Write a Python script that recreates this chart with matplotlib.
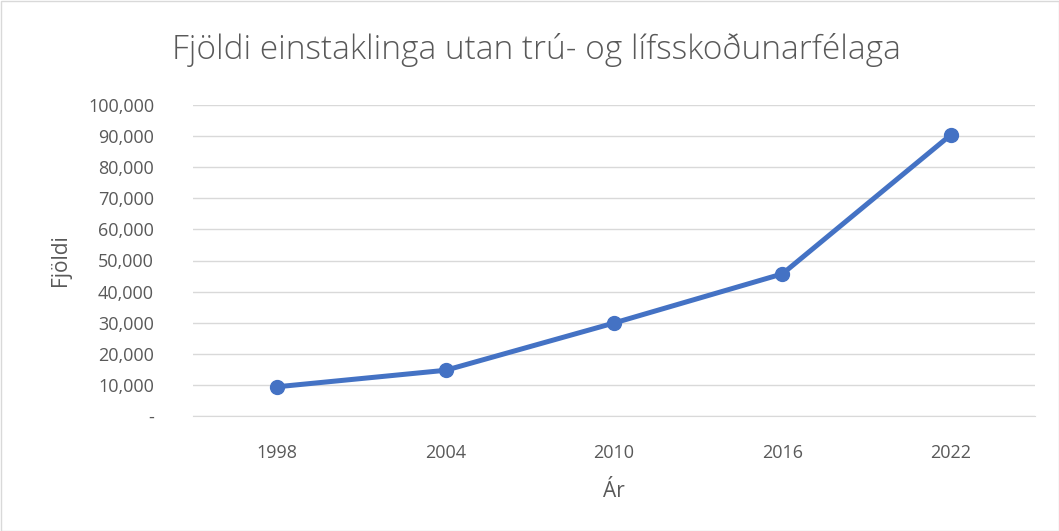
import matplotlib
matplotlib.use("Agg")
import matplotlib.pyplot as plt
from matplotlib.ticker import FuncFormatter

years = ["1998", "2004", "2010", "2016", "2022"]
counts = [9400, 14700, 29900, 45700, 90400]

title = "Fjöldi einstaklinga utan trú- og lífsskoðunarfélaga"
xlabel = "Ár"
ylabel = "Fjöldi"

plt.rcParams['font.family'] = ['Open Sans', 'DejaVu Sans']
grey = "#595959"

fig = plt.figure(figsize=(10.59, 5.31), dpi=100)
ax = fig.add_axes([193/1059, 1-416/531, (1035-193)/1059, (416-105)/531])

x = list(range(len(years)))
ax.plot(x, counts, color="#4472C4", linewidth=3.6, marker="o", markersize=10,
        solid_capstyle="round", zorder=3)

ax.set_xlim(-0.5, len(years) - 0.5)
ax.set_ylim(0, 100000)
ax.set_yticks(range(0, 100001, 10000))
ax.yaxis.set_major_formatter(FuncFormatter(lambda v, p: "-" if v == 0 else f"{int(v):,}"))
ax.set_xticks(x)
ax.set_xticklabels(years)

ax.grid(axis="y", color="#D9D9D9", linewidth=1)
ax.set_axisbelow(True)
for s in ["top", "right", "left"]:
    ax.spines[s].set_visible(False)
ax.spines["bottom"].set_color("#D9D9D9")
ax.tick_params(axis="both", length=0, labelsize=13, colors=grey)
ax.tick_params(axis="y", pad=28)
ax.tick_params(axis="x", pad=20)

ax.set_xlabel(xlabel, fontsize=15, color=grey, labelpad=14)
ax.set_ylabel(ylabel, fontsize=15, color=grey, labelpad=12)

fig.text(536/1059, 1-50/531, title, ha="center", va="center", fontsize=24,
         color=grey, fontweight="light")

border = plt.Rectangle((0.5/1059, 0.5/531), 1-1/1059, 1-1/531, transform=fig.transFigure,
                       fill=False, edgecolor="#D9D9D9", linewidth=1)
fig.patches.append(border)

fig.savefig("out.png", dpi=100)
